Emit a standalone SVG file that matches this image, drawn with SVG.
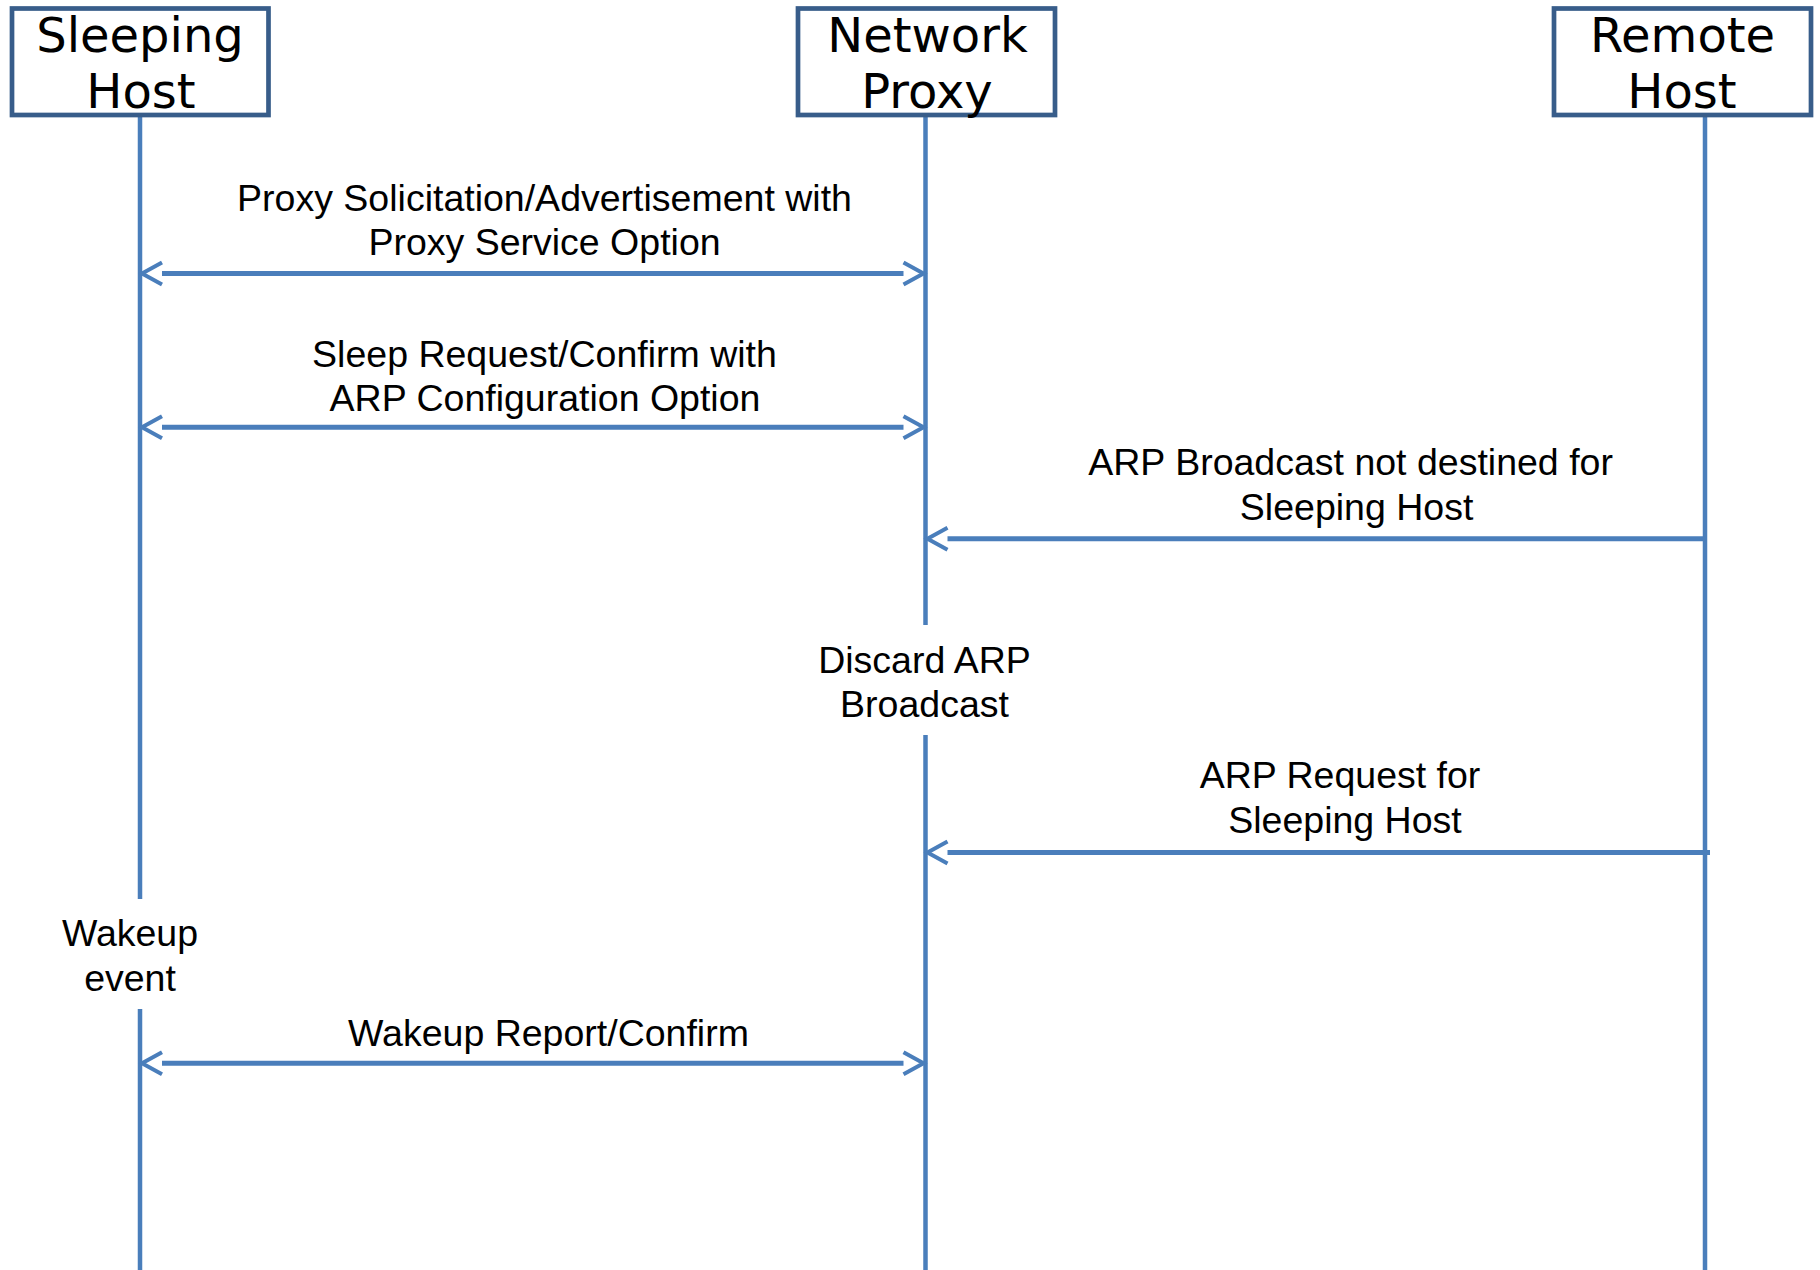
<svg xmlns="http://www.w3.org/2000/svg" width="1820" height="1270" viewBox="0 0 1820 1270">
  <style>
    .box { fill: #ffffff; stroke: #385D8A; stroke-width: 4.7; }
    .hdr { font-family: "DejaVu Sans", Verdana, sans-serif; font-size: 48px; fill: #000000; text-anchor: middle; }
    .life { stroke: #4A7EBB; stroke-width: 4.5; fill: none; }
    .msg { stroke: #4A7EBB; stroke-width: 5; fill: none; }
    .lbl { font-family: "Liberation Sans", Arial, sans-serif; font-size: 37.5px; fill: #000000; text-anchor: middle; }
  </style>
  <defs>
    <marker id="chev" markerUnits="userSpaceOnUse" markerWidth="30" markerHeight="30" viewBox="-4 -15 30 30" refX="0" refY="0" orient="auto-start-reverse">
      <path d="M0,-11 L20,0 L0,11" fill="none" stroke="#4A7EBB" stroke-width="4"/>
    </marker>
  </defs>
  <rect width="1820" height="1270" fill="#ffffff"/>

  <g id="lifelines">
    <line class="life" x1="140" y1="115" x2="140" y2="899"/>
    <line class="life" x1="140" y1="1009" x2="140" y2="1270"/>
    <line class="life" x1="925.5" y1="115" x2="925.5" y2="625"/>
    <line class="life" x1="925.5" y1="735" x2="925.5" y2="1270"/>
    <line class="life" x1="1705" y1="115" x2="1705" y2="1270"/>
  </g>

  <g id="sleeping-host">
    <rect class="box" x="12" y="8.5" width="256.5" height="106.5"/>
    <text class="hdr" x="140" y="52">Sleeping</text>
    <text class="hdr" x="141" y="108">Host</text>
  </g>

  <g id="network-proxy">
    <rect class="box" x="798" y="8.5" width="257" height="106.5"/>
    <text class="hdr" x="927.5" y="52">Network</text>
    <text class="hdr" x="927" y="108">Proxy</text>
  </g>

  <g id="remote-host">
    <rect class="box" x="1554" y="8.5" width="257" height="106.5"/>
    <text class="hdr" x="1682.5" y="52">Remote</text>
    <text class="hdr" x="1682" y="108">Host</text>
  </g>

  <g id="discard-note">
    <text class="lbl" x="924.5" y="672.7">Discard ARP</text>
    <text class="lbl" x="924.5" y="716.7">Broadcast</text>
  </g>

  <g id="wakeup-note">
    <text class="lbl" x="130" y="946">Wakeup</text>
    <text class="lbl" x="130" y="990.7">event</text>
  </g>

  <g id="connectors">
    <g id="msg-proxy-solicitation">
      <line class="msg" x1="162" y1="273.5" x2="903.5" y2="273.5" marker-start="url(#chev)" marker-end="url(#chev)"/>
      <text class="lbl" x="544.5" y="210.7">Proxy Solicitation/Advertisement with</text>
      <text class="lbl" x="544.5" y="255.3">Proxy Service Option</text>
    </g>
    <g id="msg-sleep-request">
      <line class="msg" x1="162" y1="427.3" x2="903.5" y2="427.3" marker-start="url(#chev)" marker-end="url(#chev)"/>
      <text class="lbl" x="544.5" y="366.7">Sleep Request/Confirm with</text>
      <text class="lbl" x="545" y="410.7">ARP Configuration Option</text>
    </g>
    <g id="msg-arp-broadcast">
      <line class="msg" x1="1705" y1="538.7" x2="947.5" y2="538.7" marker-end="url(#chev)"/>
      <text class="lbl" x="1350.6" y="475">ARP Broadcast not destined for</text>
      <text class="lbl" x="1356.6" y="520">Sleeping Host</text>
    </g>
    <g id="msg-arp-request">
      <line class="msg" x1="1710" y1="852.5" x2="947.5" y2="852.5" marker-end="url(#chev)"/>
      <text class="lbl" x="1340" y="788.3">ARP Request for</text>
      <text class="lbl" x="1345" y="833.3">Sleeping Host</text>
    </g>
    <g id="msg-wakeup-report">
      <line class="msg" x1="162" y1="1063.3" x2="903.5" y2="1063.3" marker-start="url(#chev)" marker-end="url(#chev)"/>
      <text class="lbl" x="548.5" y="1046">Wakeup Report/Confirm</text>
    </g>
  </g>
</svg>
